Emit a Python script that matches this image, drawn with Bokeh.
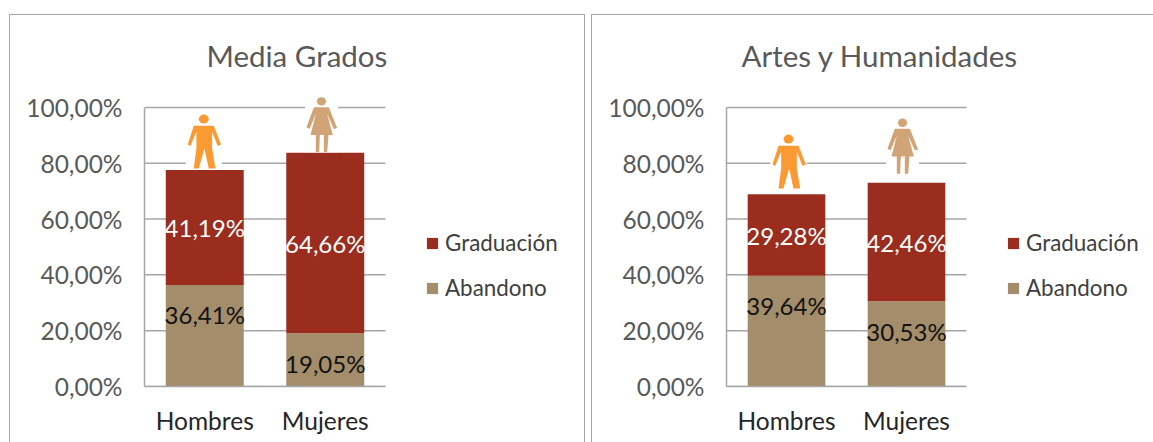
from bokeh.plotting import figure
from bokeh.layouts import row
from bokeh.models import (ColumnDataSource, FixedTicker, Legend, LegendItem, Range1d)
from bokeh.core.properties import value
from bokeh.embed import file_html
from bokeh.resources import INLINE

FONT = "Lato"
categories = ["Hombres", "Mujeres"]
media_abandono = [36.41, 19.05]
media_graduacion = [41.19, 64.66]
artes_abandono = [39.64, 30.53]
artes_graduacion = [29.28, 42.46]
tick_values = [0, 20, 40, 60, 80, 100]
tick_labels = ["0,00%", "20,00%", "40,00%", "60,00%", "80,00%", "100,00%"]

C_GRAD = "#9A2D1E"
C_ABAN = "#A38D6B"
C_MAN = "#FB9A33"
C_WOMAN = "#D1A477"
GRID = "#A6A6A6"

PX_PER_UNIT = 2.79   # y pixels per percentage point
MAN_BODY = [(-30,128),(30,128),(52,72),(42,67),(25,110),(25,60),(35,0),(15,0),(2,60),
            (-15,0),(-30,0),(-22,60),(-22,110),(-40,67),(-48,72)]
WOMAN_BODY = [(-23,135),(22,135),(47,73),(37,70),(17,115),(34,52),(7,52),(21,52),(17,0),(7,0),
              (7,52),(-5,52),(-7,0),(-17,0),(-17,52),(-33,52),(-17,115),(-36,70),(-45,75)]


def panel(title, abandono, graduacion, width, left, frame_w, title_offset, frame_css, man_dx, woman_dx, gaps):
    h = 442
    # the frame runs to the figure's right edge so that the legend can sit inside it;
    # axis and grid lines stop at the two category slots
    x_end = -0.5 + 2.0 * (width - left) / frame_w
    p = figure(width=width, height=h, output_backend="svg", toolbar_location=None,
               x_range=Range1d(-0.5, x_end), y_range=Range1d(0, 110),
               min_border_left=left, min_border_right=0,
               min_border_top=79, min_border_bottom=56,
               background_fill_color="white", border_fill_color="white", outline_line_color=None)
    p.title.text = title
    p.title.text_font = FONT
    p.title.text_font_size = "29.5px"
    p.title.text_font_style = "normal"
    p.title.text_color = "#595959"
    p.title.align = "left"
    p.title.offset = title_offset
    p.title.standoff = 14

    px_x = 2.0 / frame_w
    px_y = 1.0 / PX_PER_UNIT
    totals = [a + g for a, g in zip(abandono, graduacion)]
    xs = list(range(len(categories)))

    p.xgrid.visible = False
    p.ygrid.visible = False
    p.segment(x0=[-0.5] * len(tick_values), x1=[1.5] * len(tick_values), y0=tick_values, y1=tick_values,
              line_color=GRID, line_width=1.5)

    src = ColumnDataSource(dict(x=xs, Abandono=abandono, Graduacion=graduacion))
    rs = p.vbar_stack(["Abandono", "Graduacion"], x="x", width=0.647, source=src,
                      color=[C_ABAN, C_GRAD], line_color=None)

    # icons drawn from the shape templates, standing on the stacked bars
    for i, (tmpl, col, dx, half, head_y, head_r) in enumerate([
            (MAN_BODY, C_MAN, man_dx, 18, 148, 15),
            (WOMAN_BODY, C_WOMAN, woman_dx, 16.5, 153, 14)]):
        base = totals[i] + gaps[i] * px_y
        cx = xs[i] + dx * px_x
        top = base + (head_y + head_r) / 3 * px_y
        p.quad(left=[cx - half * px_x], right=[cx + half * px_x], bottom=[base], top=[top + 1 * px_y],
               color="white", line_color=None)
        p.patch([cx + a / 3 * px_x for a, _ in tmpl], [base + b / 3 * px_y for _, b in tmpl],
                color=col, line_color=None)
        p.ellipse([cx], [base + head_y / 3 * px_y], width=[2 * head_r / 3 * px_x], height=[2 * head_r * 0.9 / 3 * px_y],
                  color=col, line_color=None)

    # data labels
    fmt = lambda v: f"{v:.2f}".replace(".", ",") + "%"
    p.text(xs, abandono, text=[fmt(v) for v in abandono], text_font=value(FONT), text_font_size="24px",
           text_color="#111111", text_align="center", text_baseline="middle", y_offset=30)
    p.text(xs, [a + g / 2 for a, g in zip(abandono, graduacion)], text=[fmt(v) for v in graduacion],
           text_font=value(FONT), text_font_size="24px", text_color="white",
           text_align="center", text_baseline="middle")

    ax = p.yaxis[0]
    ax.ticker = FixedTicker(ticks=tick_values)
    ax.major_label_overrides = dict(zip(tick_values, tick_labels))
    ax.bounds = (0, 100)
    ax.major_tick_line_color = None
    ax.minor_tick_line_color = None
    ax.axis_line_color = GRID
    ax.axis_line_width = 1.5
    ax.major_label_text_font = FONT
    ax.major_label_text_font_size = "24.5px"
    ax.major_label_text_color = "#595959"
    ax.major_label_standoff = 16

    xa = p.xaxis[0]
    xa.ticker = FixedTicker(ticks=xs)
    xa.major_label_overrides = dict(zip(xs, categories))
    xa.bounds = (-0.5, 1.5)
    xa.major_tick_line_color = None
    xa.minor_tick_line_color = None
    xa.axis_line_color = GRID
    xa.axis_line_width = 1.5
    xa.major_label_text_font = FONT
    xa.major_label_text_font_size = "24.5px"
    xa.major_label_text_color = "#262626"
    xa.major_label_standoff = 13

    lg = Legend(items=[LegendItem(label="Graduación", renderers=[rs[1]]),
                       LegendItem(label="Abandono", renderers=[rs[0]])],
                location=(frame_w + 40, 85), orientation="vertical",
                glyph_width=14, glyph_height=14, spacing=18, padding=0, margin=0,
                label_standoff=6, label_text_font=FONT, label_text_font_size="22.4px",
                label_text_color="#404040", background_fill_alpha=0, border_line_color=None)
    p.add_layout(lg)
    p.stylesheets = [":host::after{content:'';position:absolute;box-sizing:border-box;pointer-events:none;z-index:5;"
                     + frame_css + "}"]
    return p


left = panel("Media Grados", media_abandono, media_graduacion, 587, 144, 241, 62,
             "left:9px;top:14px;width:576px;height:428px;"
             "border-style:solid;border-color:#A6A6A6;border-width:1.5px 1.5px 0 1.5px;",
             -1, -3.75, (1.5, 0.5))
right = panel("Artes y Humanidades", artes_abandono, artes_graduacion, 566, 139, 240, 15,
              "left:3.5px;top:14px;width:562.5px;height:428px;"
              "border-style:solid;border-color:#A6A6A6;border-width:1.5px 0 0 1.5px;",
              2, -4, (5.7, 9))
layout = row(left, right, spacing=0)
open("out.html", "w").write(file_html(layout, INLINE))
